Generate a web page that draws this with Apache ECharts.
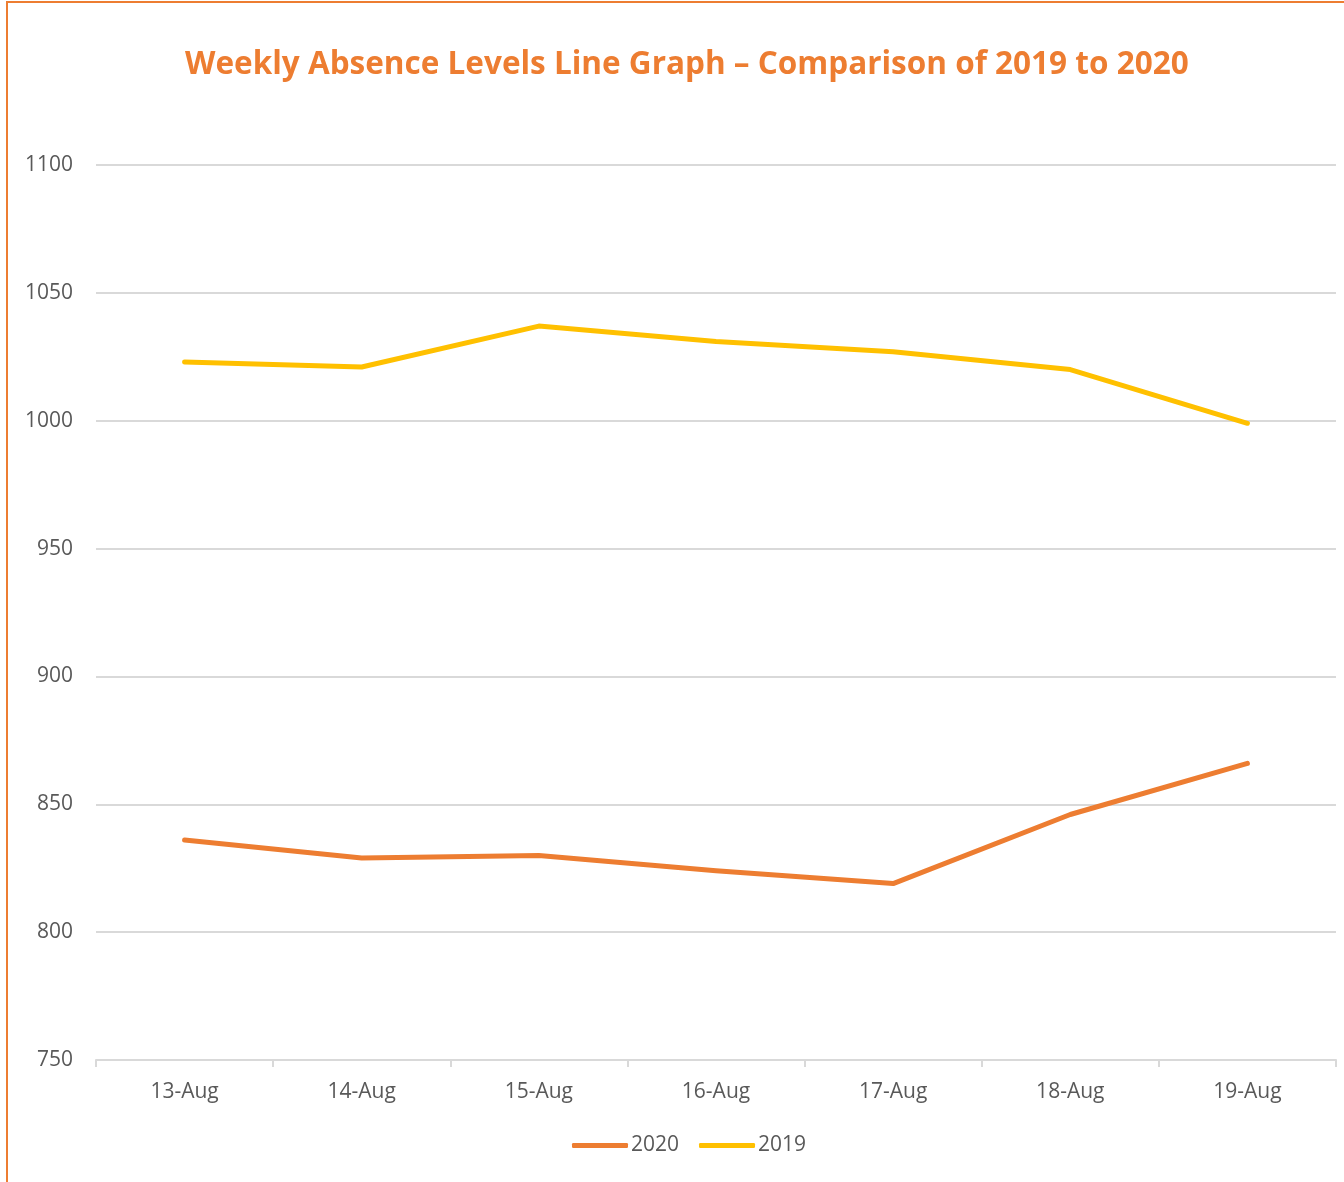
<!DOCTYPE html>
<html>
<head>
<meta charset="utf-8">
<script src="https://cdn.jsdelivr.net/npm/echarts@6/dist/echarts.min.js"></script>
<style>
  html, body { margin: 0; padding: 0; background: #fff; }
  #frame { position: absolute; left: 6px; top: 1px; width: 1400px; height: 1180px;
           border-left: 2px solid #ED7D31; border-top: 2px solid #ED7D31; }
  #chart { position: absolute; left: 0; top: 0; width: 1344px; height: 1182px; }
</style>
</head>
<body>
<div id="frame"></div>
<div id="chart"></div>
<script>
var days = ['13-Aug', '14-Aug', '15-Aug', '16-Aug', '17-Aug', '18-Aug', '19-Aug'];
var absence2020 = [836, 829, 830, 824, 819, 846, 866];
var absence2019 = [1023, 1021, 1037, 1031, 1027, 1020, 999];

var myChart = echarts.init(document.getElementById('chart'));

var font = '"Open Sans", "Noto Sans", sans-serif';

var option = {
    animation: false,
    title: {
        text: 'Weekly Absence Levels Line Graph \u2013 Comparison of 2019 to 2020',
        left: 180,
        top: 44,
        textStyle: { color: '#ED7D31', fontSize: 31.5, fontWeight: 'bold', fontFamily: font }
    },
    legend: {
        top: 1130,
        left: 567,
        itemWidth: 56,
        itemHeight: 5,
        itemGap: 20,
        textStyle: { color: '#595959', fontSize: 21, fontFamily: font, padding: [0, 0, 0, -2] },
        data: [
            { name: '2020', icon: 'roundRect' },
            { name: '2019', icon: 'roundRect' }
        ]
    },
    grid: { left: 96, right: 8, top: 165, bottom: 122 },
    xAxis: {
        type: 'category',
        data: days,
        boundaryGap: true,
        axisLine: { lineStyle: { color: '#D9D9D9', width: 2 } },
        axisTick: { show: true, length: 7, lineStyle: { color: '#D9D9D9', width: 2 } },
        axisLabel: { color: '#595959', fontSize: 21, fontFamily: font, margin: 22 }
    },
    yAxis: {
        type: 'value',
        min: 750,
        max: 1100,
        interval: 50,
        axisLine: { show: false },
        axisTick: { show: false },
        axisLabel: {
            color: '#595959', fontSize: 21, fontFamily: font, margin: 23,
            formatter: function (v) { return String(v); }
        },
        splitLine: { lineStyle: { color: '#D9D9D9', width: 2 } }
    },
    series: [
        {
            name: '2020',
            type: 'line',
            data: absence2020,
            symbol: 'none',
            color: '#ED7D31',
            lineStyle: { width: 5, color: '#ED7D31', cap: 'round', join: 'round' }
        },
        {
            name: '2019',
            type: 'line',
            data: absence2019,
            symbol: 'none',
            color: '#FFC000',
            lineStyle: { width: 5, color: '#FFC000', cap: 'round', join: 'round' }
        }
    ]
};
myChart.setOption(option);
</script>
</body>
</html>
